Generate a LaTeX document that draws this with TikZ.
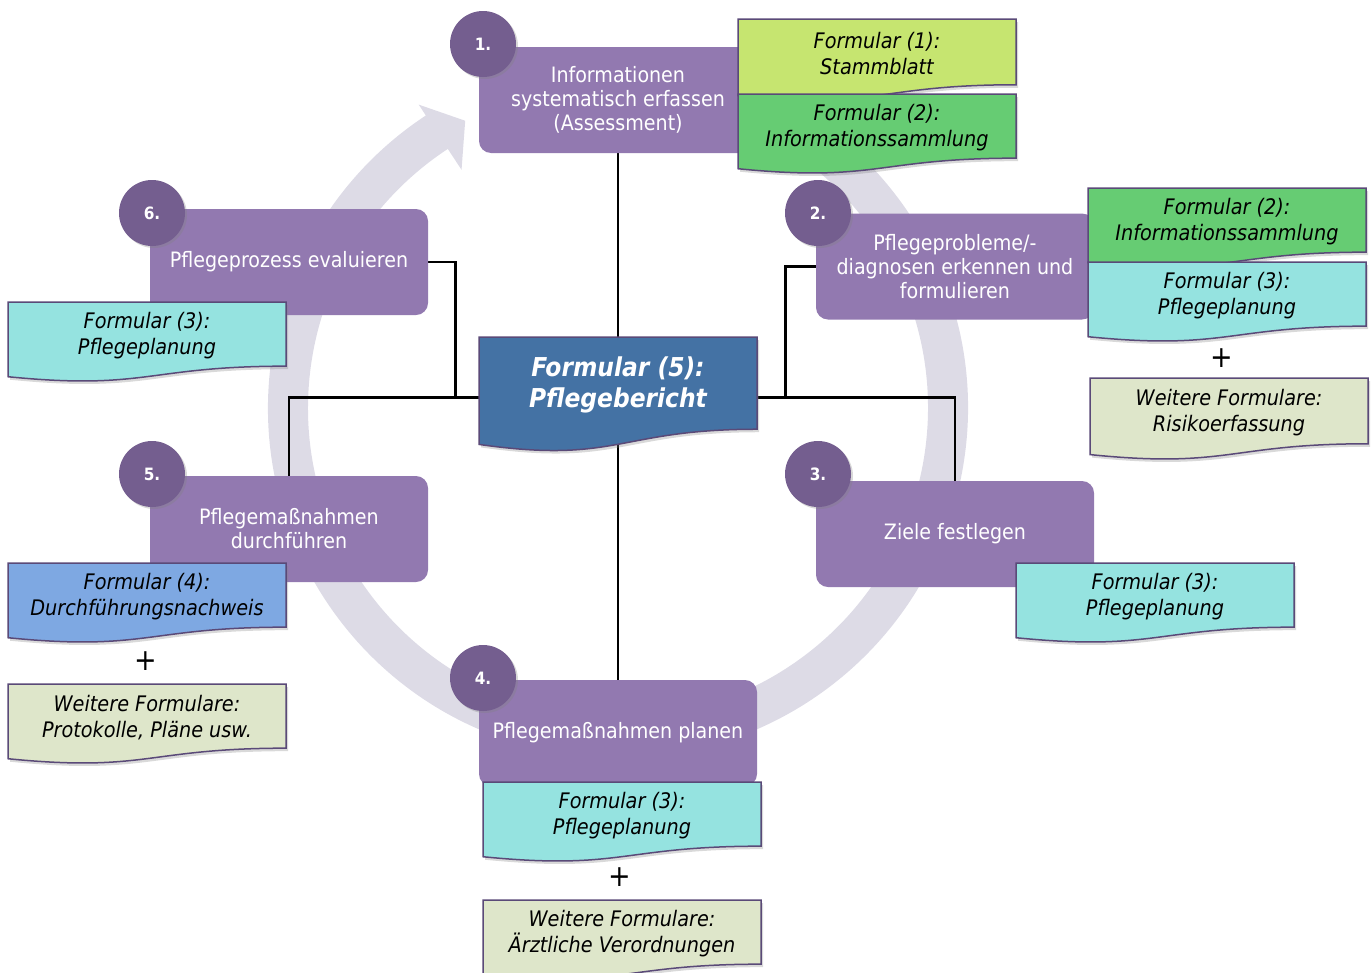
\documentclass[tikz,border=0pt]{standalone}
\usepackage{fontspec}
\setmainfont{DejaVu Sans Condensed}
\usetikzlibrary{calc,shadows,backgrounds}

\definecolor{phasenlila}{RGB}{146,121,176}
\definecolor{nummernlila}{RGB}{116,94,143}
\definecolor{ringgrau}{RGB}{221,219,230}
\definecolor{gelbgruen}{RGB}{198,229,112}
\definecolor{blattgruen}{RGB}{102,204,115}
\definecolor{tuerkis}{RGB}{149,227,224}
\definecolor{blattblau}{RGB}{126,168,226}
\definecolor{blass}{RGB}{222,230,202}
\definecolor{berichtblau}{RGB}{68,114,164}
\definecolor{randlila}{RGB}{90,74,120}

\tikzset{
  phase/.style={fill=phasenlila, rounded corners=12pt, minimum width=278pt,
    minimum height=106pt, text=white, align=center,
    font=\fontsize{21.2}{24}\selectfont},
  nummer/.style={circle, fill=nummernlila, minimum size=66pt, text=white,
    font=\fontsize{17}{20}\selectfont\bfseries,
    drop shadow={shadow xshift=2pt, shadow yshift=-2pt, opacity=0.3}},
  blatt/.style={draw=randlila, line width=1.5pt,
    drop shadow={shadow xshift=2pt, shadow yshift=-3pt, opacity=0.3}},
  blatt text/.style={minimum width=278pt, align=center,
    font=\fontsize{21.4}{25.5}\selectfont\itshape},
  bericht text/.style={text=white, font=\fontsize{26}{31}\selectfont\bfseries\itshape},
  plus/.style={font=\fontsize{30}{30}\selectfont},
  linie/.style={line width=2.8pt},
  ring/.style={fill=ringgrau}
}

% form sheet with wavy lower edge: [style] name, left, top, height, colour, text
\newcommand{\formblatt}[7][]{%
  \path[blatt, fill=#6] (#3,#4) -- ++(278,0) -- ++(0,{0.802*#5})
    .. controls ({#3+139},{#4+0.802*#5}) and ({#3+139},{#4+1.107*#5}) .. (#3,{#4+0.934*#5})
    -- cycle;
  \node[blatt text, #1, minimum height={0.84*#5}] (#2) at ({#3+139},{#4+0.42*#5}) {#7};
}

\begin{document}
\begin{tikzpicture}[x=1pt, y=-1pt]
  \useasboundingbox (0,0) rectangle (1372,972);

  % steps of the process
  \foreach \n/\x/\y/\t in {
      1/618/100/{Informationen\\systematisch erfassen\\(Assessment)},
      2/955/266.5/{Pflegeprobleme/-\\diagnosen erkennen und\\formulieren},
      3/955/534/{Ziele festlegen},
      4/618/733/{Pflegemaßnahmen planen},
      5/289/529/{Pflegemaßnahmen\\durchführen},
      6/289/262/{Pflegeprozess evaluieren}}
    \node[phase] (phase-\n) at (\x,\y) {\t};

  % numbers
  \foreach \n/\x/\y in {1/483/44, 2/818/213, 3/818/474, 4/483/678, 5/152/474, 6/152/213}
    \node[nummer] (nr-\n) at (\x,\y) {\n.};

  % forms
  \foreach \n/\x/\y/\h/\c/\t in {
      stamm/738/19/82/gelbgruen/{Formular (1):\\Stammblatt},
      info-1/738/94/80/blattgruen/{Formular (2):\\Informationssammlung},
      info-2/1088/188/80/blattgruen/{Formular (2):\\Informationssammlung},
      plan-2/1088/262/80/tuerkis/{Formular (3):\\Pflegeplanung},
      risiko/1090/378/82/blass/{Weitere Formulare:\\Risikoerfassung},
      plan-3/1016/563/80/tuerkis/{Formular (3):\\Pflegeplanung},
      plan-4/483/782/80/tuerkis/{Formular (3):\\Pflegeplanung},
      arzt/483/900/80/blass/{Weitere Formulare:\\Ärztliche Verordnungen},
      plan-6/8/302/80/tuerkis/{Formular (3):\\Pflegeplanung},
      nachweis/8/563/80/blattblau/{Formular (4):\\Durchführungsnachweis},
      protokoll/8/684/80/blass/{Weitere Formulare:\\Protokolle, Pläne usw.}}
    \formblatt{\n}{\x}{\y}{\h}{\c}{\t};

  % report in the middle
  \formblatt[bericht text]{bericht}{479}{337}{115}{berichtblau}{Formular (5):\\Pflegebericht}

  % plus signs
  \node[plus] (plus-2) at (1222,358) {+};
  \node[plus] (plus-4) at (620,877) {+};
  \node[plus] (plus-5) at (146,661) {+};

  \begin{scope}[on background layer]
    % circular arrow
    \coordinate (mitte) at (618,408);
    \fill[ring] ($(mitte)+(280:350)$) arc[start angle=280, end angle=596.7, radius=350]
      -- ($(mitte)+(236.7:363)$) -- ($(mitte)+(236.7:324)+(326.7:30)$)
      -- ($(mitte)+(236.7:285)$) -- ($(mitte)+(236.7:310)$)
      arc[start angle=596.7, end angle=280, radius=310] -- cycle;

    % lines to the report
    \draw[linie] (phase-1.south) -- (bericht.north);
    \draw[linie] (bericht.south) -- (phase-4.north);
    \draw[linie] ([yshift=-12pt]bericht.west) -| (phase-5.north);
    \draw[linie] (phase-6.east) -- ++(27,0) |- ([yshift=-12pt]bericht.west);
    \draw[linie] ([yshift=-12pt]bericht.east) -| (phase-3.north);
    \draw[linie] (phase-2.west) -- ++(-30,0) |- ([yshift=-12pt]bericht.east);
  \end{scope}
\end{tikzpicture}
\end{document}
